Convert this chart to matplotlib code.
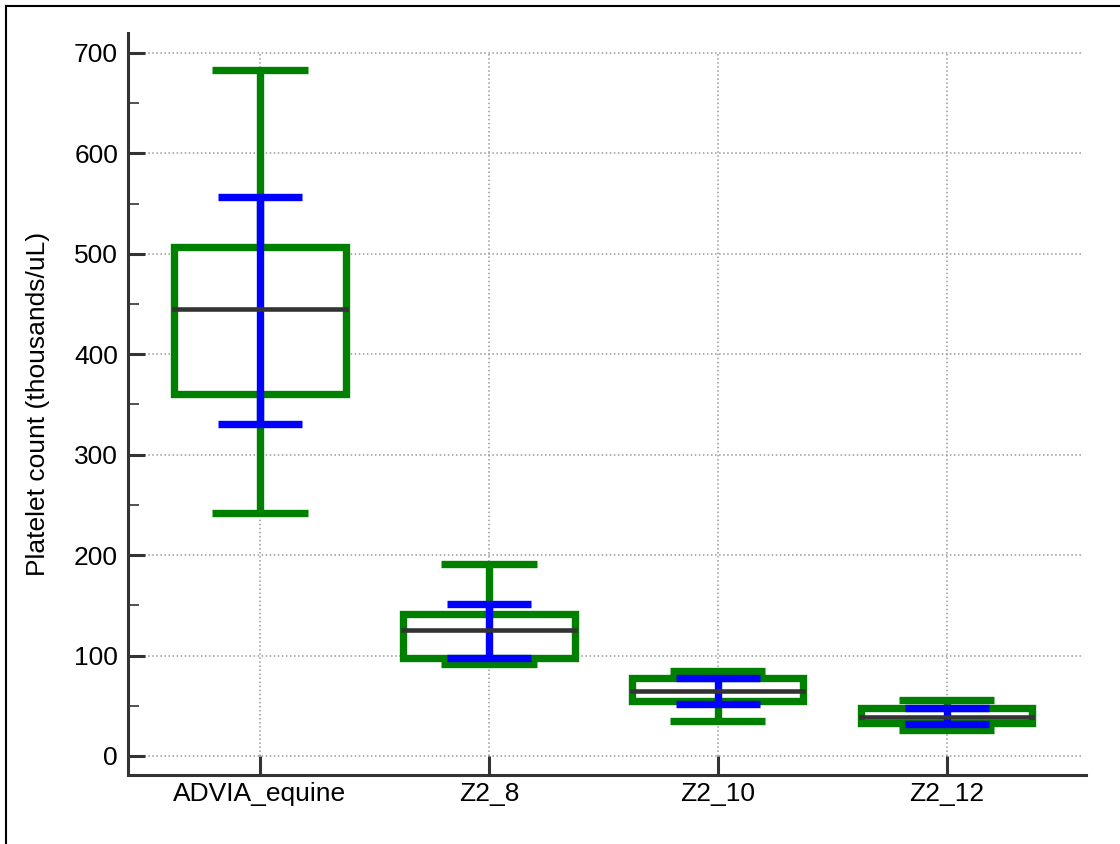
import matplotlib

matplotlib.use("Agg")
import matplotlib.pyplot as plt
from matplotlib.lines import Line2D

plt.rcParams["font.family"] = ["Liberation Sans", "DejaVu Sans"]

# values
groups = ["ADVIA_equine", "Z2_8", "Z2_10", "Z2_12"]
whisker_low = [242, 91.6, 35.2, 25.6]
q1 = [360.8, 97.6, 54.8, 33.2]
median = [444.8, 125.8, 64.7, 38.9]
q3 = [507, 140.9, 77.7, 47.6]
whisker_high = [683, 190.7, 85, 55.5]
# blue bars (mean +/- SD)
sd_low = [330.8, 98, 51.8, 31.5]
sd_high = [556.6, 151.7, 77.4, 48]

yticks = [0, 100, 200, 300, 400, 500, 600, 700]

GREEN = "#008000"
BLUE = "#0000ff"
DARK = "#333333"

pos = list(range(1, len(groups) + 1))

fig = plt.figure(figsize=(11.2, 8.44), dpi=100)
ax = fig.add_axes([0.1143, 0.0818, 0.9696 - 0.1143, 0.9609 - 0.0818])

# dotted grid, limited to the data range like the original
ax.hlines(yticks, 0, 0.997, transform=ax.get_yaxis_transform(),
          color="#999999", lw=1.1, ls=":", zorder=0)
ax.vlines(pos, yticks[0], yticks[-1], color="#999999", lw=1.1, ls=":", zorder=0)

stats = [
    {"whislo": wl, "q1": a, "med": m, "q3": b, "whishi": wh, "label": g}
    for g, wl, a, m, b, wh in zip(groups, whisker_low, q1, median, q3, whisker_high)
]
ax.bxp(
    stats,
    positions=pos,
    widths=0.747,
    capwidths=0.415,
    showfliers=False,
    patch_artist=True,
    boxprops=dict(facecolor="white", edgecolor=GREEN, linewidth=5.3, joinstyle="miter"),
    whiskerprops=dict(color=GREEN, linewidth=5.3, solid_capstyle="butt"),
    capprops=dict(color=GREEN, linewidth=5.3, solid_capstyle="butt"),
    medianprops=dict(color=DARK, linewidth=3.3, solid_capstyle="projecting", zorder=4),
    manage_ticks=False,
)

# blue mean +/- SD bars
ax.vlines(pos, sd_low, sd_high, color=BLUE, lw=5.3, zorder=3)
for p, lo, hi in zip(pos, sd_low, sd_high):
    ax.hlines([lo, hi], p - 0.1825, p + 0.1825, color=BLUE, lw=5.3, zorder=3)

ax.set_xlim(0.4236, 4.607)
ax.set_ylim(-18.9, 719.9)
ax.set_xticks(pos)
ax.set_xticklabels(groups)
ax.set_yticks(yticks)
ax.set_yticks(range(50, 700, 100), minor=True)

for side in ["top", "right"]:
    ax.spines[side].set_visible(False)
for side in ["left", "bottom"]:
    ax.spines[side].set_color(DARK)
    ax.spines[side].set_linewidth(2.2)

ax.tick_params(axis="y", which="major", direction="in", length=12, width=2.2,
               color=DARK, labelsize=19, pad=7.2)
ax.tick_params(axis="y", which="minor", direction="in", length=8, width=1.2, color=DARK)
ax.tick_params(axis="x", direction="in", length=13.7, width=2.2, color=DARK,
               labelsize=19, pad=5)

ax.set_ylabel("Platelet count (thousands/uL)", fontsize=19)
ax.yaxis.set_label_coords(-0.0814, 0.5)

# frame lines on the left and top of the figure
fig.add_artist(Line2D([5.5 / 1120, 5.5 / 1120], [0, 1 - 5.5 / 844], color="black", lw=1.5))
fig.add_artist(Line2D([5.5 / 1120, 1], [1 - 5.5 / 844, 1 - 5.5 / 844], color="black", lw=1.5))

fig.savefig("out.png", dpi=100)
